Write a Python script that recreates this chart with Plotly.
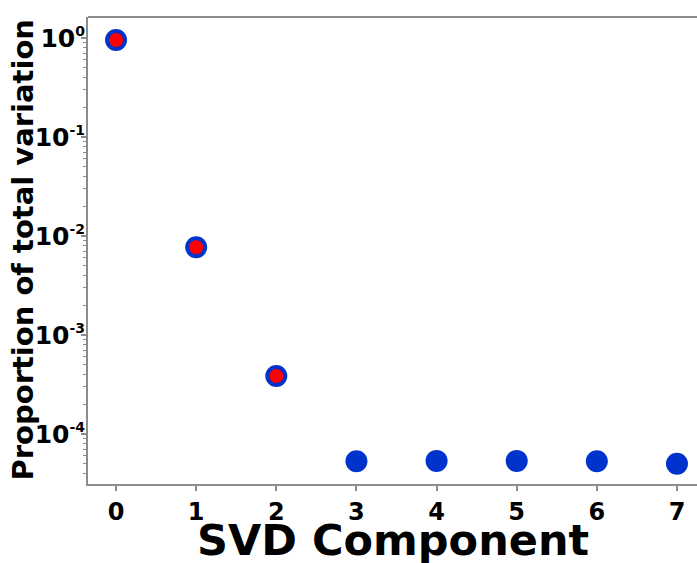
import plotly.graph_objects as go

# Proportion of total variation captured by each SVD component
components = [0, 1, 2, 3, 4, 5, 6, 7]
proportion = [0.955, 0.0077, 3.85e-4, 5.3e-5, 5.35e-5, 5.35e-5, 5.3e-5, 5.0e-5]
# Components that are kept (highlighted)
kept = [0, 1, 2]

ytick_vals = [1e0, 1e-1, 1e-2, 1e-3, 1e-4]
ytick_exps = ["0", "-1", "-2", "-3", "-4"]
xtick_vals = [0, 1, 2, 3, 4, 5, 6, 7]
# minor log ticks: 2..9 within each decade
yminor_vals = [k * 10.0 ** d for d in range(-5, 1) for k in range(2, 10)]

ytick_text = ["10<sup><span style='font-size:14px'>%s</span></sup>" % e for e in ytick_exps]

BLUE = "#0033cc"
RED = "#ff0000"
AXIS = "#8c8c8c"
FONT = "DejaVu Sans"

fig = go.Figure()
fig.add_trace(go.Scatter(
    x=components, y=proportion, mode="markers",
    marker=dict(color=BLUE, size=22, line=dict(width=0)),
    showlegend=False, hoverinfo="x+y",
))
fig.add_trace(go.Scatter(
    x=[components[i] for i in kept], y=[proportion[i] for i in kept], mode="markers",
    marker=dict(color=RED, size=14, line=dict(width=0)),
    showlegend=False, hoverinfo="x+y",
))

fig.update_layout(
    width=697, height=563,
    margin=dict(l=88, r=0, t=17, b=79),
    paper_bgcolor="white", plot_bgcolor="white",
    font=dict(family=FONT, color="black"),
    xaxis=dict(
        range=[-0.35, 7.25], tickvals=xtick_vals,
        ticks="outside", ticklen=5, tickwidth=1.5, tickcolor=AXIS,
        showline=True, linecolor=AXIS, linewidth=2, mirror=False,
        showgrid=False, zeroline=False,
        tickfont=dict(family=FONT, size=24, weight="bold"),
        ticklabelstandoff=0,
    ),
    yaxis=dict(
        type="log", range=[-4.505, 0.212],
        tickvals=ytick_vals, ticktext=ytick_text,
        ticks="outside", ticklen=5, tickwidth=1.5, tickcolor=AXIS,
        minor=dict(tickvals=yminor_vals, ticks="outside", ticklen=3, tickcolor=AXIS,
                   tickwidth=1, showgrid=False),
        showline=True, linecolor=AXIS, linewidth=2,
        showgrid=False, zeroline=False,
        tickfont=dict(family=FONT, size=25, weight="bold"),
        ticklabelstandoff=-9,
    ),
    shapes=[dict(type="line", xref="paper", yref="paper", x0=0, x1=1, y0=1, y1=1,
                 line=dict(color=AXIS, width=2))],
    annotations=[
        dict(text="SVD Component", xref="paper", yref="paper", x=0.5, y=0,
             xanchor="center", yanchor="middle", yshift=-56, showarrow=False,
             font=dict(family=FONT, size=43, weight="bold")),
        dict(text="Proportion of total variation", xref="paper", yref="paper", x=0, y=0.5,
             xanchor="center", yanchor="middle", xshift=-66, textangle=-90, showarrow=False,
             font=dict(family=FONT, size=29, weight="bold")),
    ],
)

fig.write_html("out.html")
